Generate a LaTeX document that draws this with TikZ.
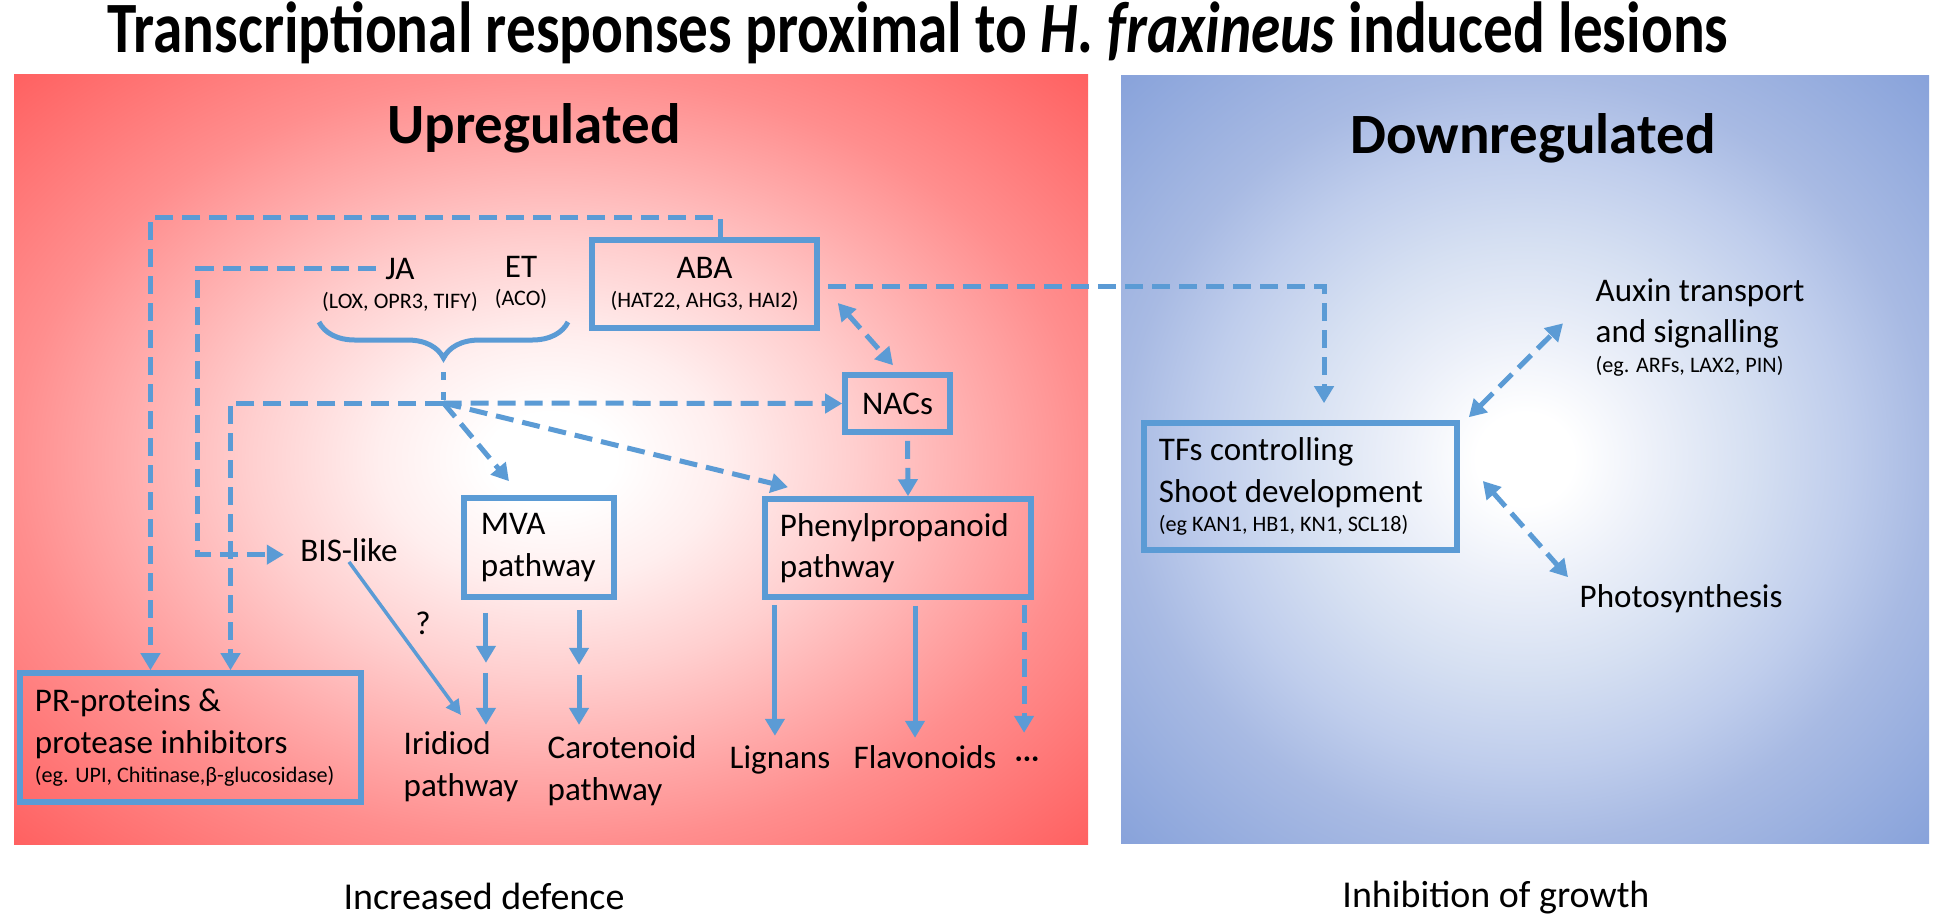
\documentclass[tikz,border=0pt]{standalone}
\usepackage{fontspec}
\usepackage{graphicx}
\setmainfont{Carlito}
\usetikzlibrary{arrows.meta,decorations.pathreplacing}

\definecolor{flowblue}{HTML}{5B9BD5}
% red panel (upregulated)
\definecolor{upA}{HTML}{FFEEEE}
\definecolor{upB}{HTML}{FFCFCF}
\definecolor{upC}{HTML}{FFABAB}
\definecolor{upD}{HTML}{FF8E8E}
\definecolor{upE}{HTML}{FF5E5E}
% blue panel (downregulated)
\definecolor{downA}{HTML}{ECF0F9}
\definecolor{downB}{HTML}{D6E0F2}
\definecolor{downC}{HTML}{BFCDEC}
\definecolor{downD}{HTML}{A8BAE3}
\definecolor{downE}{HTML}{86A1DA}

\pgfdeclareradialshading{upglow}{\pgfpointorigin}{color(0bp)=(white); color(3bp)=(white); color(8bp)=(upA); color(14bp)=(upB); color(20bp)=(upC); color(25bp)=(upD); color(36bp)=(upE); color(50bp)=(upE)}
\pgfdeclareradialshading{downglow}{\pgfpointorigin}{color(0bp)=(white); color(3bp)=(white); color(8bp)=(downA); color(14bp)=(downB); color(20bp)=(downC); color(25bp)=(downD); color(36bp)=(downE); color(50bp)=(downE)}

\newcommand{\txtsize}{\fontsize{9.4}{11.8}\selectfont}
\newcommand{\genesize}{\fontsize{6.3}{7.6}\selectfont}

\begin{document}
\begin{tikzpicture}[x=0.01cm, y=-0.01cm, % pixel grid, y runs downwards
  box/.style={draw=flowblue, line width=0.055cm, inner sep=0pt, font=\txtsize, align=flush left},
  txt/.style={inner sep=0pt, font=\txtsize, align=flush left},
  gene/.style={inner sep=0pt, font=\genesize},
  heading/.style={inner sep=0pt, font=\fontsize{16.2}{19}\selectfont\bfseries},
  footer/.style={inner sep=0pt, font=\fontsize{10.8}{13}\selectfont},
  flow/.style={draw=flowblue, line width=0.05cm, -{Triangle[length=0.17cm,width=0.19cm]}},
  dashflow/.style={flow, dash pattern=on 0.18cm off 0.09cm},
  twoway/.style={dashflow, {Triangle[length=0.17cm,width=0.19cm]}-{Triangle[length=0.17cm,width=0.19cm]}}]

	% Canvas and the two panels
	\useasboundingbox (0,0) rectangle (1946,915);
	\fill[white] (0,0) rectangle (1946,915);
	\shade[shading=upglow] (14,74) rectangle (1088,844);
	\shade[shading=downglow] (1121,75) rectangle (1929,843);

	% Title and panel headings
	\node[inner sep=0pt, anchor=base, font=\fontsize{16.85}{20}\selectfont\bfseries] (title) at (918,52) {\scalebox{1}[1.22]{Transcriptional responses proximal to \textit{H. fraxineus} induced lesions}};
	\node[heading, anchor=base] (up) at (534,143) {Upregulated};
	\node[heading, anchor=base] (down) at (1533,153) {Downregulated};

	% Hormone signals
	\node[txt, anchor=base] (ja) at (400,279) {JA};
	\node[gene, anchor=base] (jagenes) at (400,308) {(LOX, OPR3, TIFY)};
	\node[txt, anchor=base] (et) at (521,277) {ET};
	\node[gene, anchor=base] (etgenes) at (521,305) {(ACO)};
	\node[box, minimum width=2.25cm, minimum height=0.88cm, align=flush center] (aba) at (704.5,284) {ABA\\[-3.5pt]{\genesize (HAT22, AHG3, HAI2)}};
	\draw[flowblue, line width=0.05cm, decorate, decoration={brace, mirror, amplitude=0.36cm}] (319,322) -- (568,322);
	\coordinate (bracetip) at (443.5,360);
	\coordinate (junc) at (443.5,403);

	% Upregulated targets
	\node[box, minimum width=1.05cm, minimum height=0.57cm] (nacs) at (897.5,403.5) {NACs};
	\node[txt, anchor=base] (bis) at (349,561) {BIS-like};
	\node[box, minimum width=1.5cm, minimum height=0.99cm, text width=1.16cm] (mva) at (539,547.5) {MVA\\pathway};
	\node[box, minimum width=2.66cm, minimum height=0.98cm, text width=2.36cm] (phen) at (898,548) {Phenylpropanoid\\pathway};
	\node[box, minimum width=3.41cm, minimum height=1.29cm, text width=3.11cm] (pr) at (190.5,737.5) {PR-proteins \&\\protease inhibitors\\[-3.5pt]{\genesize (eg. UPI, Chitinase,β-glucosidase)}};
	\node[txt, anchor=north west] (iridiod) at (403,731) {Iridiod\\pathway};
	\node[txt, anchor=north west] (carot) at (547,735) {Carotenoid\\pathway};
	\node[txt, anchor=base] (lignans) at (780,768) {Lignans};
	\node[txt, anchor=base] (flavo) at (925,768) {Flavonoids};
	\node[txt, anchor=base] (more) at (1027,768) {···};
	\node[txt] (query) at (423,623) {?};

	% Downregulated targets
	\node[box, minimum width=3.13cm, minimum height=1.27cm, text width=2.83cm] (tfs) at (1300.5,486.5) {TFs controlling\\Shoot development\\[-3.5pt]{\genesize (eg KAN1, HB1, KN1, SCL18)}};
	\node[txt, anchor=north west] (auxin) at (1595,278) {Auxin transport\\and signalling\\[-3.5pt]{\genesize (eg. ARFs, LAX2, PIN)}};
	\node[txt, anchor=base west] (photo) at (1579,607) {Photosynthesis};

	% Outcomes
	\node[footer, anchor=base] (defence) at (484,909) {Increased defence};
	\node[footer, anchor=base] (growth) at (1496,907) {Inhibition of growth};

	% ABA and JA links on the left
	\draw[dashflow] ([xshift=0.155cm]aba.north) -- ++(0,-20) -| ([xshift=-0.4cm]pr.north);
	\draw[dashflow] ([xshift=-0.09cm]ja.west) -- ++(-178,0) |- ([xshift=-0.16cm, yshift=-0.05cm]bis.west);

	% JA/ET junction
	\draw[flowblue, line width=0.05cm, dash pattern=on 0.08cm off 0.12cm] ([yshift=-0.12cm]bracetip) -- (junc);
	\draw[dashflow] (junc) -| ([xshift=0.4cm]pr.north);
	\draw[dashflow] (junc) -- (nacs.west);
	\draw[dashflow] (junc) -- ([xshift=-0.3cm, yshift=0.14cm]mva.north);
	\draw[dashflow] (junc) -- ([xshift=-1.1cm, yshift=0.09cm]phen.north);

	% ABA, NACs and TFs
	\draw[twoway] ([xshift=0.18cm, yshift=-0.19cm]aba.east) -- ([xshift=-0.045cm, yshift=0.07cm]nacs.north);
	\draw[dashflow] ([xshift=0.1cm, yshift=-0.06cm]nacs.south) -- ([xshift=0.1cm]phen.north);
	\draw[dashflow] ([xshift=0.08cm, yshift=-0.02cm]aba.east) -| ([xshift=0.235cm, yshift=0.17cm]tfs.north);

	% MVA outputs
	\draw[flow] ([xshift=-0.53cm, yshift=-0.13cm]mva.south) -- ++(0,50);
	\draw[flow] ([xshift=-0.53cm, yshift=-0.73cm]mva.south) -- ++(0,52);
	\draw[flow] ([xshift=0.4cm, yshift=-0.1cm]mva.south) -- ++(0,55);
	\draw[flow] ([xshift=0.4cm, yshift=-0.75cm]mva.south) -- ++(0,50);
	\draw[flow, line width=0.035cm, -{Triangle[length=0.15cm,width=0.15cm]}] (bis.south) -- ([yshift=0.16cm]iridiod.north);

	% Phenylpropanoid outputs
	\draw[flow] ([xshift=-1.23cm, yshift=-0.05cm]phen.south) -- ++(0,131);
	\draw[flow] ([xshift=0.17cm, yshift=-0.06cm]phen.south) -- ++(0,132);
	\draw[dashflow] ([xshift=1.26cm, yshift=-0.05cm]phen.south) -- ++(0,128);

	% TFs links on the right
	\draw[twoway] ([xshift=0.09cm, yshift=0.03cm]tfs.north east) -- ([xshift=-0.32cm, yshift=0.04cm]auxin.west);
	\draw[twoway] ([xshift=0.23cm, yshift=0.055cm]tfs.east) -- ([xshift=-0.11cm, yshift=0.21cm]photo.west);
\end{tikzpicture}
\end{document}
